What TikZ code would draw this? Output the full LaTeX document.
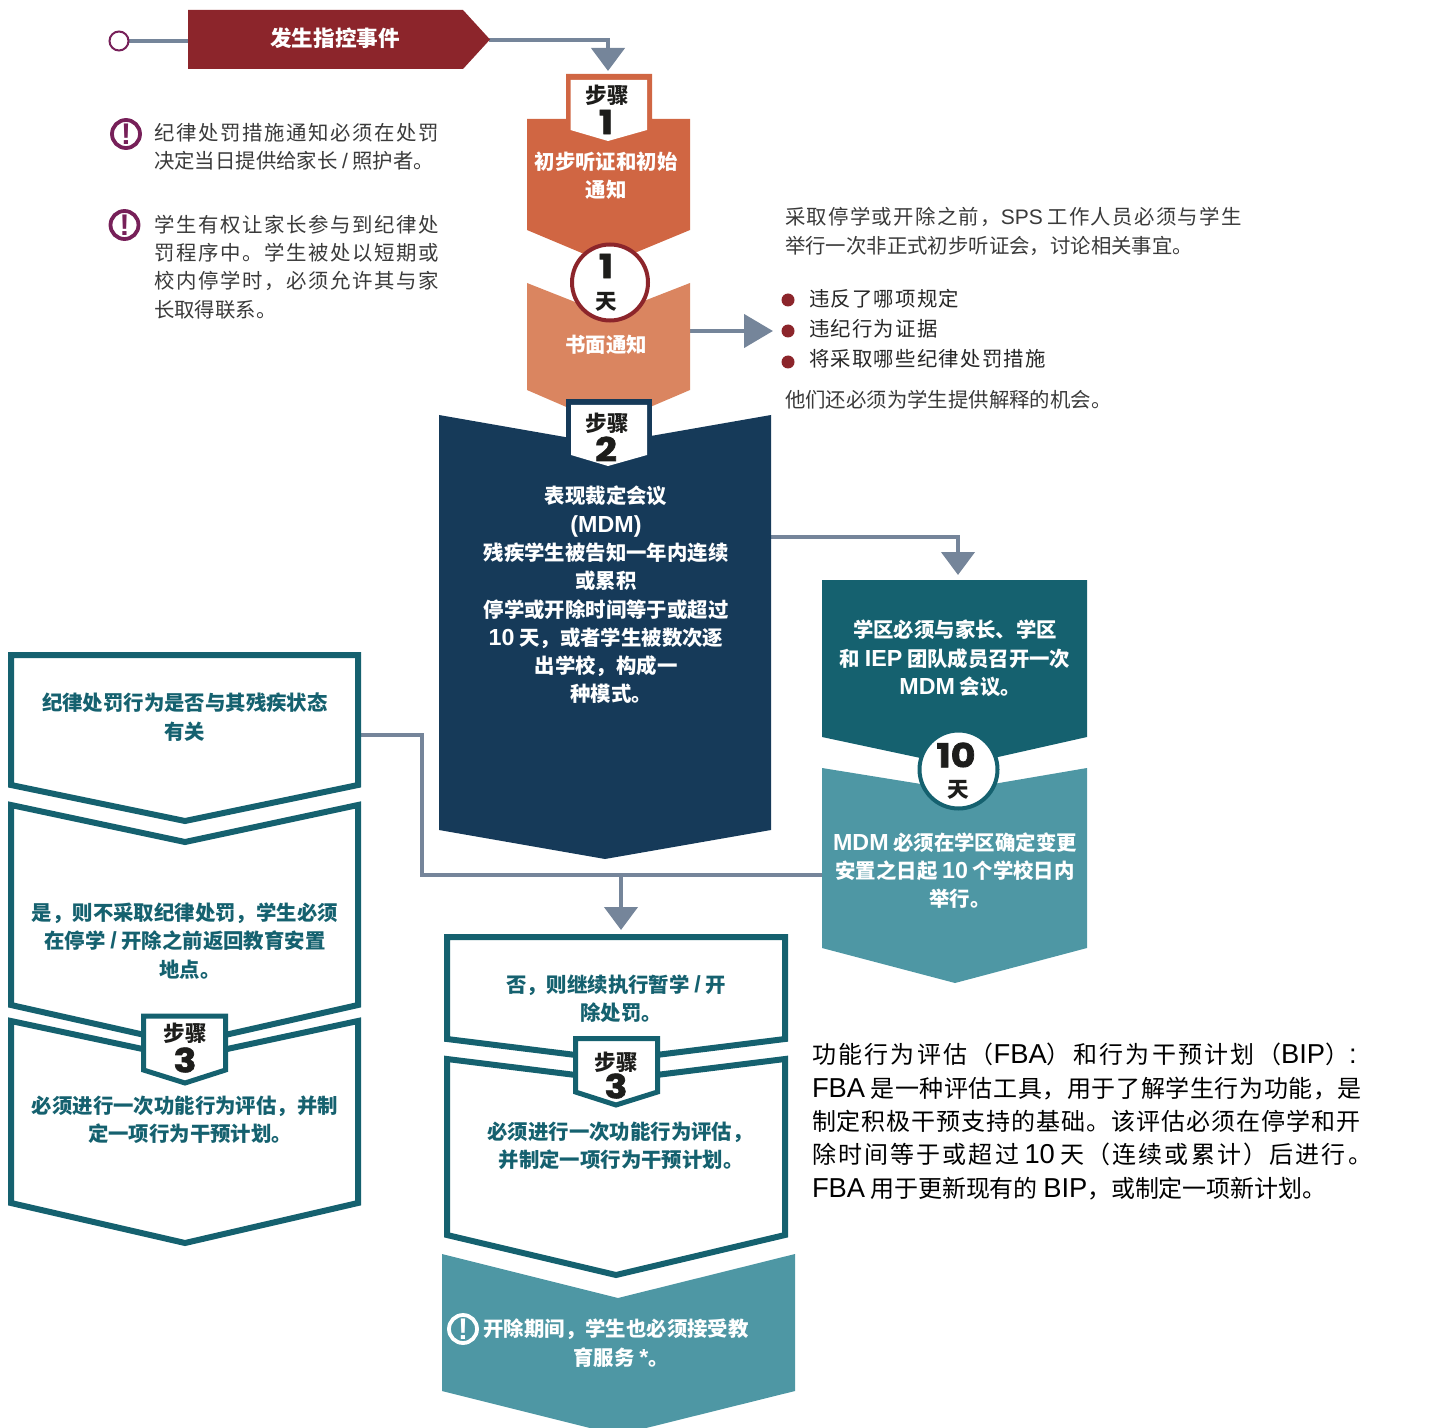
\documentclass[tikz,border=0pt]{standalone}
\usepackage{fontspec}
\usetikzlibrary{arrows.meta}
\setmainfont{Noto Sans CJK SC}
\newfontfamily\latf{Liberation Sans}[Scale=1.14]
\newfontfamily\latsf{Liberation Sans}[Scale=1.03]
\newfontfamily\numf{Poppins}[FakeBold=2,FakeStretch=1.15]
\newcommand\lat[1]{{\latf #1}}
\newcommand\lats[1]{{\latsf #1}}
\newcommand\lsp[2]{{\addfontfeature{LetterSpace=#1}#2}}
\newcommand\stp{。\kern-.5em}
\newcommand\cma{，\kern-.4em}
\definecolor{redc}{HTML}{8C252B}
\definecolor{grayc}{HTML}{75859A}
\definecolor{orangec}{HTML}{D06643}
\definecolor{lorangec}{HTML}{DA8560}
\definecolor{navyc}{HTML}{163A59}
\definecolor{tealc}{HTML}{15616F}
\definecolor{lteal}{HTML}{4E97A4}
\definecolor{purplec}{HTML}{772059}
\definecolor{txtc}{HTML}{3A3A3A}
\definecolor{numc}{HTML}{1D1D1B}
\tikzset{
  x=0.5pt,y=-0.5pt,
  conn/.style={draw=grayc,line width=2.2pt},
  flow/.style={conn,-{Triangle[width=16.5pt,length=11.5pt]}},
  flowlong/.style={conn,-{Triangle[width=16.5pt,length=14.5pt]}},
  outline/.style={draw=tealc,line width=3pt,fill=white,miter limit=10},
  tabbox/.style={fill=white,draw=tealc,line width=2.5pt,miter limit=10},
  body/.style={inner sep=0pt,outer sep=0pt,align=left,anchor=west,text=txtc,font=\fontsize{10.2}{14.2}\selectfont},
  big/.style={inner sep=0pt,outer sep=0pt,align=left,anchor=west,text=black,font=\fontsize{12}{16.65}\selectfont},
  wtext/.style={inner sep=0pt,outer sep=0pt,align=center,text=white,font=\fontsize{10.2}{14.15}\selectfont\bfseries},
  ttext/.style={wtext,text=tealc},
  stepword/.style={inner sep=0pt,outer sep=0pt,text=numc,font=\fontsize{10.8}{13}\selectfont\bfseries},
  stepnum/.style={inner sep=0pt,outer sep=0pt,text=numc,font=\fontsize{16.5}{17}\numf\bfseries},
  warn/.style={circle,draw=purplec,line width=1.9pt,fill=white,minimum size=14pt,inner sep=0pt,text=purplec,font=\fontsize{14.5}{14}\latsf\bfseries},
  dot/.style={circle,fill=redc,minimum size=6.5pt,inner sep=0pt},
}
\begin{document}
\begin{tikzpicture}
\clip (0,0) rectangle (1440,1428);
% --- named connector ends
\coordinate (start) at (119,41);
\coordinate (evstart) at (188,41);
\coordinate (evtip) at (489,40);
\coordinate (s1head) at (608,71);
\coordinate (lorange) at (690,331);
\coordinate (listhead) at (773,331);
\coordinate (mdmedge) at (771,537);
\coordinate (tealhead) at (958,575);
\coordinate (qedge) at (361,735);
\coordinate (qbend) at (422,735);
\coordinate (join) at (621,875);
\coordinate (ltedge) at (822,875);
\coordinate (nohead) at (621,930);
% --- connectors
\draw[conn] (start) -- (evstart);
\draw[flow] (evtip) -| (s1head);
\draw[flowlong] (lorange) -- (listhead);
\draw[flow] (mdmedge) -| (tealhead);
\draw[conn] (qedge) -- (qbend) |- (join);
\draw[conn] (ltedge) -- (join);
\draw[flow] (join) -- (nohead);
% --- start
\node[circle,draw=purplec,fill=white,line width=1pt,minimum size=9.5pt,inner sep=0pt] (startdot) at (start) {};
\fill[redc] (188,10) -- (463,10) -- (490,39.5) -- (463,69) -- (188,69) -- cycle;
\node[wtext,font=\fontsize{10.8}{14}\selectfont\bfseries] (event) at (335,38) {发生指控事件};
% --- notes
\node[warn] (w1) at (126,134) {!};
\node[body] (n1) at (154,146.5) {\lsp{8}{纪律处罚措施通知必须在处罚}\\决定当日提供给家长 \lats{/} 照护者。};
\node[warn] (w2) at (124.5,225) {!};
\node[body] (n2) at (154,267) {\lsp{8}{学生有权让家长参与到纪律处}\\\lsp{8}{罚程序中。学生被处以短期或}\\\lsp{8}{校内停学时，必须允许其与家}\\长取得联系。};
% --- step 1
\fill[lorangec] (527,283) -- (608,315) -- (690,283) -- (690,390) -- (608,425) -- (527,390) -- cycle;
\fill[orangec] (566,74) -- (652,74) -- (652,119) -- (690,119) -- (690,230) -- (608,264) -- (527,230) -- (527,119) -- (566,119) -- cycle;
\fill[white] (570.5,80) -- (647,80) -- (647,130) -- (608,141) -- (570.5,130) -- cycle;
\node[stepword] (st1) at (607,95) {步骤};
\node[stepnum] (st1n) at (606,122) {1};
\node[wtext] (t1) at (606,176) {初步听证和初始\\通知};
\node[circle,draw=redc,line width=2pt,fill=white,minimum size=38pt,inner sep=0pt] (d1) at (610,282.5) {};
\node[stepnum] (d1n) at (606,266) {1};
\node[stepword] (d1t) at (606,302) {天};
\node[wtext] (t1b) at (606,345) {书面通知};
% --- list
\node[body] (intro) at (785,231.5) {\lsp{6.5}{采取停学或开除之前，}\lats{SPS} \lsp{6.5}{工作人员必须与学生}\\举行一次非正式初步听证会，讨论相关事宜。};
\node[dot] (b1) at (788,300) {};
\node[dot] (b2) at (788,331) {};
\node[dot] (b3) at (788,362) {};
\node[body,text=black!85] (l1) at (809,299) {\lsp{6}{违反了哪项规定}};
\node[body,text=black!85] (l2) at (809,329) {\lsp{6}{违纪行为证据}};
\node[body,text=black!85] (l3) at (809,359) {\lsp{6}{将采取哪些纪律处罚措施}};
\node[body] (l4) at (785,400) {他们还必须为学生提供解释的机会。};
% --- step 2
\fill[navyc] (439,415) -- (605,444) -- (771,415) -- (771,830) -- (605,859) -- (439,830) -- cycle;
\fill[navyc] (566,399) rectangle (652,450);
\fill[white] (571,405) -- (647,405) -- (647,455) -- (608,466) -- (571,455) -- cycle;
\node[stepword] (st2) at (607,423) {步骤};
\node[stepnum] (st2n) at (606,449) {2};
\node[wtext] (t2) at (606,595) {表现裁定会议\\\lat{(MDM)}\\残疾学生被告知一年内连续\\或累积\\停学或开除时间等于或超过\\\lat{10} 天，或者学生被数次逐\\出学校，构成一\\种模式\stp};
% --- right teal
\fill[lteal] (822,768) -- (958,790) -- (1087,768) -- (1087,948) -- (955,983) -- (822,948) -- cycle;
\fill[tealc] (822,580) -- (1087,580) -- (1087,737) -- (958,766) -- (822,737) -- cycle;
\node[circle,draw=tealc,line width=2pt,fill=white,minimum size=39pt,inner sep=0pt] (d10) at (958.5,769.5) {};
\node[stepnum] (d10n) at (956,755) {10};
\node[stepword] (d10t) at (958,790) {天};
\node[wtext] (t3) at (955,658.5) {学区必须与家长、学区\\和 \lat{IEP} 团队成员召开一次\\\lat{MDM} 会议\stp};
\node[wtext] (t4) at (955,870.5) {\lat{MDM} 必须在学区确定变更\\安置之日起 \lat{10} 个学校日内\\举行\stp};
% --- left boxes
\draw[outline] (11,1021) -- (185,1058) -- (358,1021) -- (358,1203) -- (185,1243) -- (11,1203) -- cycle;
\draw[outline] (11,805) -- (185,842) -- (358,805) -- (358,1005) -- (185,1044) -- (11,1005) -- cycle;
\draw[outline] (11,655) -- (358,655) -- (358,785) -- (185,821) -- (11,785) -- cycle;
\draw[tabbox] (143.5,1016) -- (225.5,1016) -- (225.5,1070) -- (185,1083) -- (143.5,1070) -- cycle;
\node[ttext] (q1) at (185,717) {纪律处罚行为是否与其残疾状态\\有关};
\node[ttext] (q2) at (185,941) {是，则不采取纪律处罚，学生必须\\在停学 \lat{/} 开除之前返回教育安置\\地点\stp};
\node[stepword] (st3a) at (185,1033) {步骤};
\node[stepnum] (st3an) at (185,1060) {3};
\node[ttext] (q3) at (185,1120) {必须进行一次功能行为评估，并制\\定一项行为干预计划\stp};
% --- middle boxes
\fill[lteal] (442,1254) -- (618,1298) -- (795,1254) -- (795,1391) -- (618,1435) -- (442,1391) -- cycle;
\draw[outline] (447,1059) -- (616,1080) -- (785,1059) -- (785,1235) -- (616,1275) -- (447,1235) -- cycle;
\draw[outline] (447,937) -- (785,937) -- (785,1039) -- (616,1060) -- (447,1039) -- cycle;
\draw[tabbox] (575.5,1038.5) -- (657.5,1038.5) -- (657.5,1092) -- (616,1105) -- (575.5,1092) -- cycle;
\node[ttext] (r1) at (616,999) {否，则继续执行暂学 \lat{/} 开\\除处罚\stp};
\node[stepword] (st3b) at (616,1062) {步骤};
\node[stepnum] (st3bn) at (616,1086) {3};
\node[ttext] (r2) at (616,1146) {必须进行一次功能行为评估\cma\\并制定一项行为干预计划\stp};
\node[warn,draw=white,fill=none,text=white] (w3) at (463,1329) {!};
\node[wtext] (r3) at (616,1343) {开除期间，学生也必须接受教\\育服务 \lat{*}\stp};
% --- FBA
\node[big] (fba) at (812,1121.5) {\lsp{9.5}{功能行为评估（}\lat{FBA}\lsp{9.5}{）和行为干预计划（}\lat{BIP}\lsp{9.5}{）}\lat{:}\\\lat{FBA} \lsp{2.5}{是一种评估工具，用于了解学生行为功能，是}\\\lsp{4}{制定积极干预支持的基础。该评估必须在停学和开}\\\lsp{9}{除时间等于或超过} \lat{10} \lsp{9}{天（连续或累计）后进行。}\\\lat{FBA} \lsp{-0.5}{用于更新现有的} \lat{BIP}\lsp{-0.5}{，或制定一项新计划。}};
\end{tikzpicture}
\end{document}
